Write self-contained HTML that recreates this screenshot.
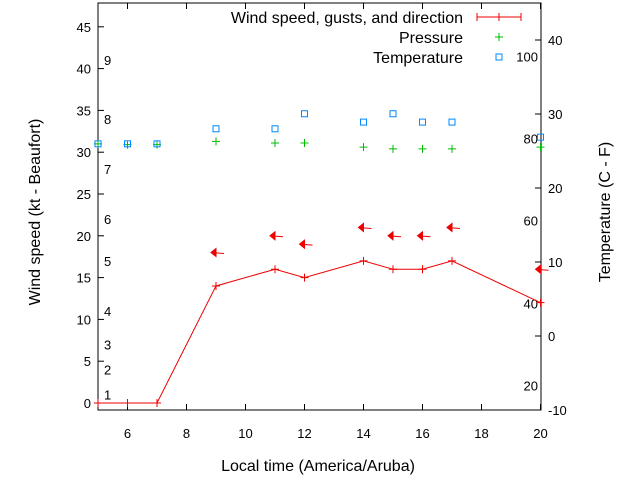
<!DOCTYPE html>
<html><head><meta charset="utf-8"><style>
body{margin:0;background:#fff}
svg text{font-family:"Liberation Sans",sans-serif;font-size:13px;fill:#000}
svg text.big{font-size:16px}
</style></head><body>
<svg width="640" height="480" id="c">
<rect x="98" y="3" width="443" height="407" fill="none" stroke="#000"/>
<g id="axes"></g><g id="marks"></g>
<text class="big" x="318" y="471" text-anchor="middle">Local time (America/Aruba)</text>
<text class="big" transform="translate(40,212) rotate(-90)" text-anchor="middle">Wind speed (kt - Beaufort)</text>
<text class="big" transform="translate(610,212) rotate(-90)" text-anchor="middle">Temperature (C - F)</text>
<g>
<text class="big" x="463" y="23" text-anchor="end">Wind speed, gusts, and direction</text>
<line x1="477" y1="17" x2="521" y2="17" stroke="#e00"/>
<line x1="477" y1="13" x2="477" y2="21" stroke="#e00"/><line x1="521" y1="13" x2="521" y2="21" stroke="#e00"/><line x1="499" y1="13" x2="499" y2="21" stroke="#e00"/>
<text class="big" x="463" y="43" text-anchor="end">Pressure</text>
<path d="M495,37h8M499,33v8" stroke="#0b0"/>
<text class="big" x="463" y="63" text-anchor="end">Temperature</text>
<rect x="496" y="54" width="6" height="6" fill="none" stroke="#08f"/>
</g>
</svg>
<script>
const hours=[5,6,7,9,11,12,14,15,16,17,20];
const windSpeed=[0,0,0,14,16,15,17,16,16,17,12];
const dirHours=[9,11,12,14,15,16,17,20];
const dirLevel=[18,20,19,21,20,20,21,16];
const tempVals=[31,31,31,32.8,32.8,34.6,33.6,34.6,33.6,33.6,31.8];
const pressVals=[31,30.9,30.9,31.3,31.1,31.1,30.6,30.4,30.4,30.4,30.6];
const xTicks=[6,8,10,12,14,16,18,20];
const yTicks=[0,5,10,15,20,25,30,35,40,45];
const y2Ticks=[-10,0,10,20,30,40];
const beaufort=[["1",1],["2",4],["3",7],["4",11],["5",17],["6",22],["7",28],["8",34],["9",41]];
const fLabels=[["20",-6.7],["40",4.4],["60",15.6],["80",26.7],["100",37.8]];
const X=h=>98+(h-5)*29.5, Y=v=>403-v*8.36, Y2=t=>336-t*7.4;
const ns="http://www.w3.org/2000/svg";
const ax=document.getElementById('axes'), mk=document.getElementById('marks');
function mkEl(t,a,p){const e=document.createElementNS(ns,t);for(const k in a)e.setAttribute(k,a[k]);p.appendChild(e);return e;}
xTicks.forEach(h=>{mkEl('line',{x1:X(h),y1:410,x2:X(h),y2:404,stroke:'#000'},ax);mkEl('line',{x1:X(h),y1:3,x2:X(h),y2:9,stroke:'#000'},ax);
const t=mkEl('text',{x:X(h),y:438,'text-anchor':'middle'},ax);t.textContent=h;

});
yTicks.forEach(v=>{mkEl('line',{x1:98,y1:Y(v),x2:104,y2:Y(v),stroke:'#000'},ax);
const t=mkEl('text',{x:91,y:Y(v)+5,'text-anchor':'end'},ax);t.textContent=v;

});
y2Ticks.forEach(v=>{mkEl('line',{x1:541,y1:Y2(v),x2:535,y2:Y2(v),stroke:'#000'},ax);
const t=mkEl('text',{x:548,y:Y2(v)+5},ax);t.textContent=v;

});
beaufort.forEach(([l,v])=>{const t=mkEl('text',{x:104,y:Y(v)+5},ax);t.textContent=l;

});
fLabels.forEach(([l,c])=>{const t=mkEl('text',{x:538,y:Y2(c)+5,'text-anchor':'end'},ax);t.textContent=l;

});
const pl=mkEl('polyline',{points:hours.map((h,i)=>X(h)+','+Y(windSpeed[i])).join(' '),fill:'none',stroke:'#e00'},mk);


hours.forEach((h,i)=>{const g=mkEl('path',{d:`M${X(h)-4},${Y(windSpeed[i])}h8M${X(h)},${Y(windSpeed[i])-4}v8`,stroke:'#e00'},mk);

});
dirHours.forEach((h,i)=>{const x=X(h),y=Y(dirLevel[i]);const g=mkEl('path',{d:`M${x-5},${y}L${x+8},${y+1}M${x-5},${y}l5,-4v8z`,stroke:'#e00',fill:'#e00'},mk);

});
hours.forEach((h,i)=>{const x=X(h),y=Y(pressVals[i]);const g=mkEl('path',{d:`M${x-4},${y}h8M${x},${y-4}v8`,stroke:'#0b0'},mk);

});
hours.forEach((h,i)=>{const r=mkEl('rect',{x:X(h)-3,y:Y(tempVals[i])-3,width:6,height:6,fill:'none',stroke:'#08f'},mk);

});
</script>
</body></html>
